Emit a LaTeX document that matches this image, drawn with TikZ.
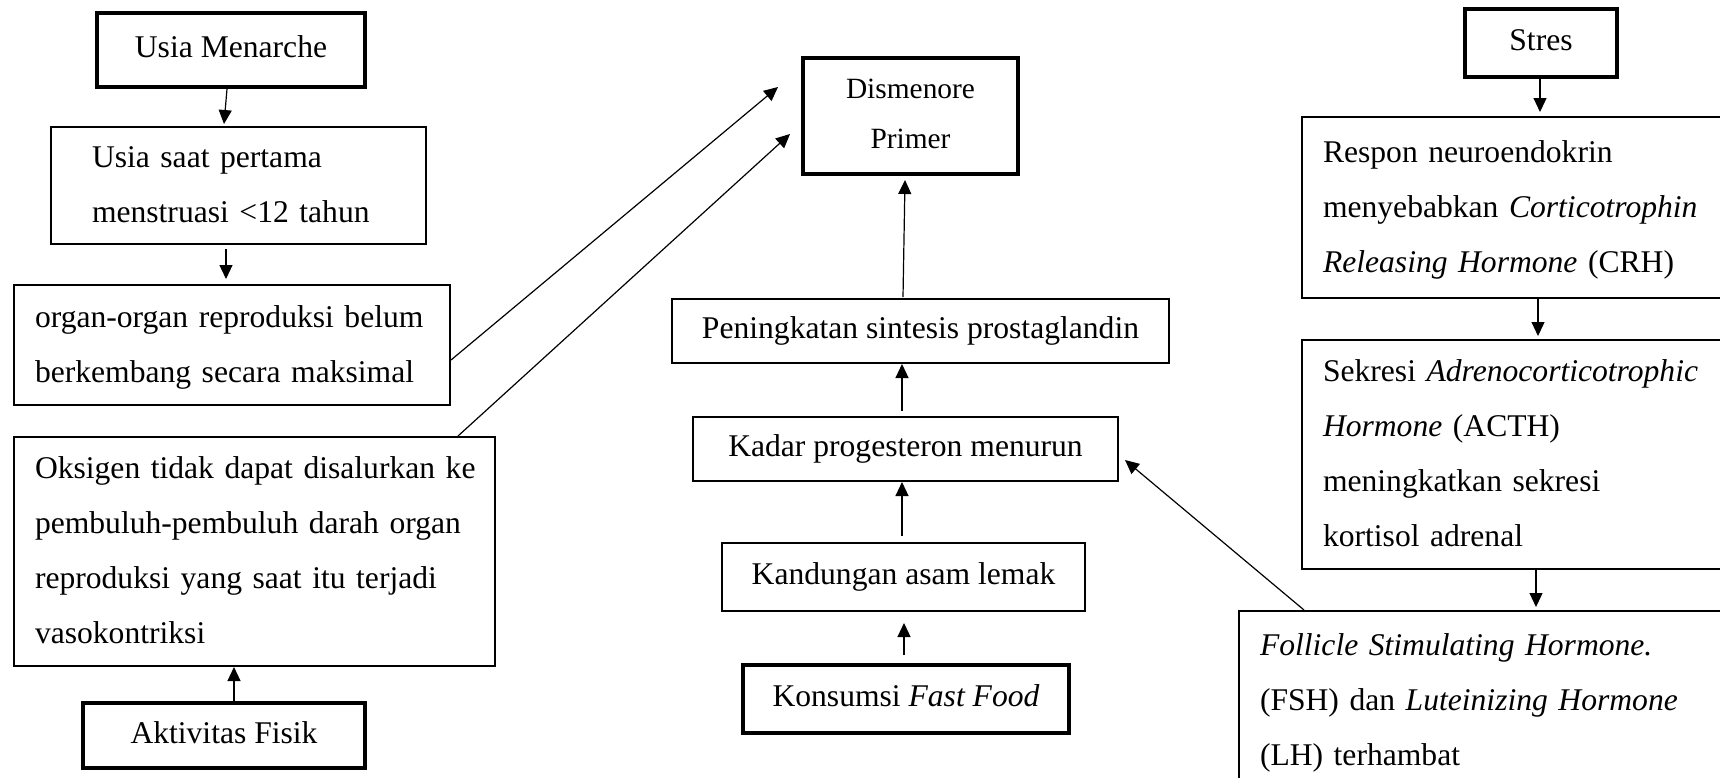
\documentclass[tikz,border=0pt]{standalone}
\usepackage{fontspec}
\setmainfont{Liberation Serif}
\usetikzlibrary{arrows.meta}
\newcommand\mytopstrut{\rule{0pt}{35pt}}
\newcommand\mybotstrut{\rule[-20pt]{0pt}{20pt}}
\newcommand\lefttopstrut{\rule{0pt}{37pt}}
\newcommand\leftbotstrut{\rule[-18pt]{0pt}{18pt}}
\newcommand\distopstrut{\rule{0pt}{34pt}}
\newcommand\disbotstrut{\rule[-19pt]{0pt}{19pt}}
\begin{document}
\begin{tikzpicture}[x=1pt,y=-1pt,
  base/.style={font=\fontsize{31.6}{55}\selectfont, inner sep=0pt},
  single/.style={base, align=center,
    execute at begin node=\mytopstrut, execute at end node=\mybotstrut},
  thickbox/.style={single, draw, line width=4pt},
  thinbox/.style={single, draw, line width=2pt},
  leftbox/.style={base, draw, line width=2pt, align=left, inner xsep=21pt,
    execute at begin node=\lefttopstrut, execute at end node=\leftbotstrut},
  disbox/.style={draw, line width=4pt, align=center, inner sep=0pt,
    font=\fontsize{29.4}{50}\selectfont,
    execute at begin node=\distopstrut, execute at end node=\disbotstrut},
  arr/.style={line width=1.2pt, -{Triangle[length=14pt,width=13pt]}}
]
\useasboundingbox (0,0) rectangle (1720,777);
\fill[white] (0,0) rectangle (1720,777);
\clip (0,0) rectangle (1720,777);

% left column
\node[thickbox, minimum width=268pt, minimum height=74pt] (menarche) at (231,50) {Usia Menarche};
\node[leftbox, text width=333pt, minimum height=117pt] (usia) at (238.5,185.5)
  {\hspace*{20pt}\mbox{Usia saat pertama}\\\hspace*{20pt}\mbox{menstruasi <12 tahun}};
\node[leftbox, text width=394pt, minimum height=120pt] (organ) at (232,345)
  {\mbox{organ-organ reproduksi belum}\\\mbox{berkembang secara maksimal}};
\node[leftbox, text width=439pt, minimum height=229pt] (oks) at (254.5,551.5)
  {\mbox{Oksigen tidak dapat disalurkan ke}\\\mbox{pembuluh-pembuluh darah organ}\\\mbox{reproduksi yang saat itu terjadi}\\vasokontriksi};
\node[thickbox, minimum width=282pt, minimum height=65pt] (aktiv) at (224,735.5) {Aktivitas Fisik};

% middle column
\node[disbox, text width=215pt, minimum height=116pt] (dis) at (910.5,116) {Dismenore\\Primer};
\node[thinbox, minimum width=497pt, minimum height=64pt] (pen) at (920.5,331) {Peningkatan sintesis prostaglandin};
\node[thinbox, minimum width=425pt, minimum height=64pt] (kadar) at (905.5,449) {Kadar progesteron menurun};
\node[thinbox, minimum width=363pt, minimum height=68pt] (kand) at (903.5,577) {Kandungan asam lemak};
\node[thickbox, minimum width=326pt, minimum height=68pt] (kons) at (906,699) {Konsumsi \textit{Fast Food}};

% right column
\node[thickbox, minimum width=152pt, minimum height=68pt] (stres) at (1541,43) {Stres};
\node[leftbox, text width=416pt, minimum height=181pt] (respon) at (1531,207.5)
  {Respon neuroendokrin\\\mbox{menyebabkan \textit{Corticotrophin}}\\\mbox{\textit{Releasing Hormone} (CRH)}};
\node[leftbox, text width=416pt, minimum height=229pt] (sekresi) at (1531,454.5)
  {\mbox{Sekresi \textit{Adrenocorticotrophic}}\\\mbox{\textit{Hormone} (ACTH)}\\meningkatkan sekresi\\kortisol adrenal};
\node[leftbox, text width=479pt, minimum height=180pt] (fsh) at (1499.5,701)
  {\mbox{\textit{Follicle Stimulating Hormone.}}\\\mbox{(FSH) dan \textit{Luteinizing Hormone}}\\(LH) terhambat};

% free arrow ends
\coordinate (t1) at (778,87);
\coordinate (t2) at (790,134);
\coordinate (t3) at (1125,460);

% connectors
\draw[arr] ([xshift=-4pt]menarche.south) -- ([xshift=-14.5pt,yshift=2pt]usia.north);
\draw[arr] ([xshift=-12.5pt,yshift=-4pt]usia.south) -- ([xshift=-6pt,yshift=5pt]organ.north);
\draw[arr] ([xshift=10pt]aktiv.north) -- ([xshift=-20.5pt]oks.south);
\draw[arr] ([yshift=-15pt]organ.east) -- (t1);
\draw[arr] ([xshift=203.5pt]oks.north) -- (t2);

\draw[arr] ([xshift=-17.5pt,yshift=1pt]pen.north) -- ([xshift=-5.5pt,yshift=-4pt]dis.south);
\draw[arr] ([xshift=-3.5pt,yshift=5pt]kadar.north) -- ([xshift=-18.5pt]pen.south);
\draw[arr] ([xshift=-1.5pt,yshift=6pt]kand.north) -- ([xshift=-3.5pt]kadar.south);
\draw[arr] ([xshift=-2pt,yshift=8pt]kons.north) -- ([xshift=0.5pt,yshift=-11pt]kand.south);

\draw[arr] ([xshift=-1pt]stres.south) -- ([xshift=9pt,yshift=4pt]respon.north);
\draw[arr] ([xshift=7pt]respon.south) -- ([xshift=7pt,yshift=3pt]sekresi.north);
\draw[arr] ([xshift=5pt]sekresi.south) -- ([xshift=36.5pt,yshift=3pt]fsh.north);
\draw[arr] ([xshift=-195.5pt]fsh.north) -- (t3);
\end{tikzpicture}
\end{document}
